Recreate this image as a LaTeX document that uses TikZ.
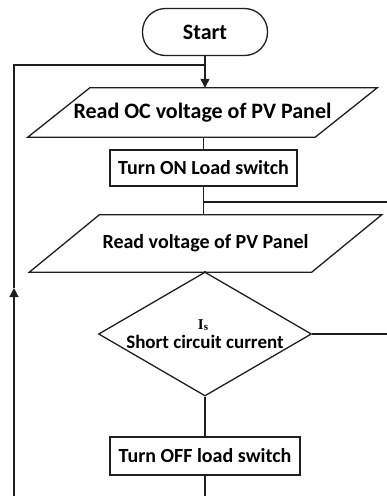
\documentclass[tikz,border=0pt]{standalone}
\usepackage{fontspec}
\setmainfont{Carlito}
\newfontfamily\labelserif{Liberation Serif}
\usepackage{tikz}
\usetikzlibrary{arrows.meta,shapes.geometric}
\definecolor{flowLine}{RGB}{30,30,30}
\tikzset{
    flowtext/.style={font=\fontsize{20}{24}\selectfont\bfseries, text=black},
    bigtext/.style={font=\fontsize{22}{26}\selectfont\bfseries, text=black},
    termbox/.style={draw=flowLine, line width=1.3pt, rectangle, rounded corners=23pt, minimum width=125pt, minimum height=47pt, bigtext},
    iobox/.style={rectangle, inner sep=0pt, flowtext},
    procbox/.style={draw=flowLine, line width=1.1pt, rectangle, inner sep=0pt, flowtext},
    decbox/.style={draw=flowLine, line width=1.3pt, diamond, inner sep=0pt},
    flowline/.style={draw=flowLine, line width=1.2pt}
}

\begin{document}
\begin{tikzpicture}[x=1pt,y=-1pt]
    \useasboundingbox (0,0) rectangle (387,496);

    % blocks
    \node[termbox] (start) at (205,32) {Start};
    \node[iobox, bigtext, minimum width=287pt, minimum height=49pt] (readoc) at (202.5,112.5) {Read OC voltage of PV Panel};
    \draw[flowline, line width=1.3pt] ([xshift=-31pt]readoc.south west) -- ([xshift=31pt]readoc.north west)
        -- ([xshift=31pt]readoc.north east) -- ([xshift=-31pt]readoc.south east) -- cycle;
    \node[procbox, minimum width=187pt, minimum height=36pt] (loadon) at (203.5,168) {Turn ON Load switch};
    \node[iobox, minimum width=282pt, minimum height=57pt] (readpv) at (205.5,243.5) {Read voltage of PV Panel};
    \draw[flowline, line width=1.3pt] ([xshift=-35pt]readpv.south west) -- ([xshift=35pt]readpv.north west)
        -- ([xshift=35pt]readpv.north east) -- ([xshift=-35pt]readpv.south east) -- cycle;
    \node[decbox, minimum width=213pt, minimum height=124pt] (isc) at (205,334) {};
    \node[font=\labelserif\bfseries, inner sep=0pt] (isclabel) at (203,325) {{\fontsize{15}{16}\selectfont I}\raisebox{-1pt}{\fontsize{11}{12}\selectfont s}};
    \node[flowtext, font=\fontsize{19}{22}\selectfont\bfseries] (isctext) at (205,342) {Short circuit current};
    \node[procbox, minimum width=190pt, minimum height=38pt] (loadoff) at (205,456) {Turn OFF load switch};

    % junctions
    \coordinate (jtop) at (start.south |- 0,65);
    \coordinate (jon) at (loadon.south |- 0,202);
    \coordinate (outon) at (387,202);
    \coordinate (outsc) at (387,334);
    \coordinate (offend) at (loadoff.south |- 0,496);
    \coordinate (loopbot) at (14,496);
    \coordinate (loopmid) at (14,288);
    \coordinate (looptop) at (14,65);

    % connectors
    \draw[flowline] (start) -- (jtop);
    \draw[flowline, -{Triangle[length=9pt,width=9pt]}] (jtop) -- (readoc.north -| jtop);
    \draw[flowline] (readoc.south -| loadon) -- (loadon);
    \draw[flowline] (loadon) -- (readpv.north -| loadon);
    \draw[flowline] (jon) -- (outon);
    \draw[flowline] (readpv.south -| isc) -- (isc.north);
    \draw[flowline] (isc.east) -- (outsc);
    \draw[flowline] (isc.south) -- (loadoff);
    \draw[flowline] (loadoff) -- (offend);
    \draw[flowline, -{Triangle[length=9pt,width=9pt]}] (loopbot) -- (loopmid);
    \draw[flowline] (loopmid) -- (looptop) -- (jtop);

\end{tikzpicture}
\end{document}
